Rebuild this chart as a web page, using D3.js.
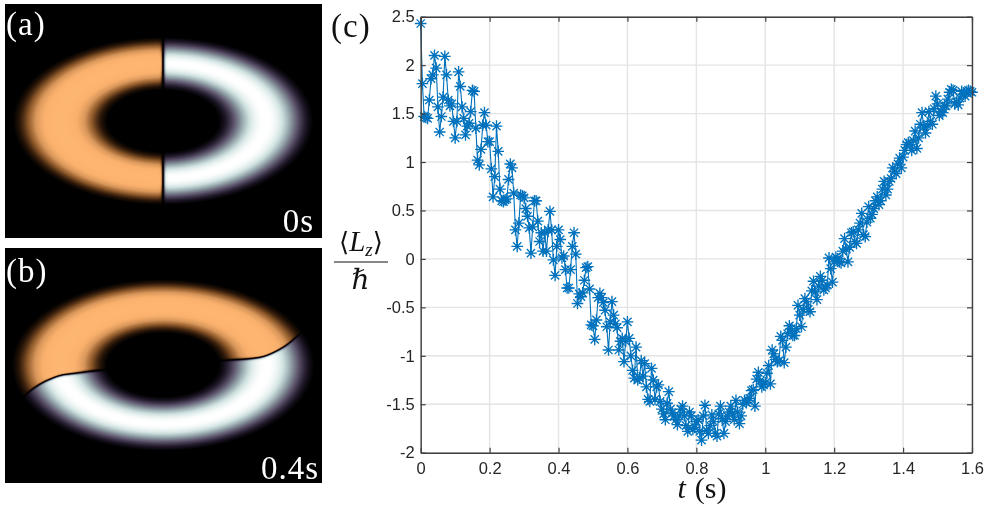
<!DOCTYPE html>
<html><head><meta charset="utf-8">
<script src="https://cdn.jsdelivr.net/npm/d3@7/dist/d3.min.js"></script>
<style>
html,body{margin:0;padding:0;background:#fff;width:988px;height:509px;overflow:hidden}
canvas,svg{position:absolute;left:0;top:0}
</style></head><body>
<script>
const dt = 0.005;
const Lz = [
2.43,1.81,1.47,1.46,1.45,1.64,1.86,1.90,2.10,1.97,1.57,1.31,1.47,1.67,2.09,1.90,1.64,1.58,1.60,1.42,
1.25,1.42,1.93,1.78,1.57,1.45,1.28,1.37,1.40,1.52,1.74,1.73,1.35,1.02,.97,1.13,1.38,1.51,1.38,1.21,
1.21,.93,.64,.85,1.37,1.11,.72,.60,.59,.61,.62,.82,.98,.94,.68,.30,.13,.37,.66,.65,
.63,.52,.44,.32,.06,.33,.60,.60,.39,.18,.27,.08,.27,.08,.30,.49,.30,-.01,-.17,.13,
.30,.20,.01,.03,-.11,-.30,-.30,-.11,.13,.27,.05,-.46,-.36,-.39,-.35,-.22,-.09,-.08,-.31,-.68,
-.69,-.83,-.63,-.40,-.355,-.40,-.45,-.53,-.70,-.94,-.65,-.44,-.58,-.67,-.71,-.94,-.85,-.82,-1.06,-.85,
-.65,-.82,-1.0,-1.15,-1.23,-.91,-1.25,-1.23,-1.05,-1.21,-1.08,-1.32,-1.45,-1.47,-1.13,-1.25,-1.45,-1.32,-1.30,-1.47,
-1.55,-1.60,-1.66,-1.49,-1.37,-1.55,-1.59,-1.62,-1.66,-1.71,-1.62,-1.55,-1.52,-1.62,-1.72,-1.78,-1.58,-1.62,-1.76,-1.74,
-1.68,-1.66,-1.78,-1.87,-1.62,-1.51,-1.77,-1.80,-1.72,-1.61,-1.68,-1.80,-1.83,-1.60,-1.52,-1.65,-1.80,-1.68,-1.62,-1.58,
-1.52,-1.60,-1.66,-1.46,-1.58,-1.70,-1.62,-1.50,-1.46,-1.48,-1.46,-1.44,-1.36,-1.35,-1.52,-1.24,-1.17,-1.26,-1.32,-1.30,
-1.28,-1.18,-1.10,-1.29,-.94,-.98,-1.04,-1.06,-1.05,-.80,-.84,-1.07,-.91,-.77,-.69,-.72,-.79,-.79,-.72,-.48,
-.58,-.70,-.52,-.41,-.44,-.52,-.545,-.33,-.23,-.34,-.42,-.28,-.18,-.22,-.32,-.30,-.27,.01,-.10,-.24,
-.03,.02,.0,-.03,-.04,.08,.21,.10,-.03,.12,.27,.28,.18,.16,.30,.37,.47,.25,.23,.38,
.54,.42,.46,.52,.60,.64,.56,.60,.72,.80,.66,.72,.80,.83,.94,.90,.88,.98,1.04,.94,
1.05,1.12,1.18,1.20,1.18,1.12,1.22,1.32,1.14,1.25,1.39,1.51,1.36,1.30,1.38,1.52,1.42,1.39,1.55,1.68,
1.60,1.48,1.52,1.51,1.58,1.58,1.65,1.72,1.75,1.74,1.60,1.62,1.59,1.66,1.73,1.70,1.68,1.73,1.74,1.73,1.72
];
const xTicks = [0,0.2,0.4,0.6,0.8,1,1.2,1.4,1.6];
const yTicks = [-2,-1.5,-1,-0.5,0,0.5,1,1.5,2,2.5];
const densityStops = [0,0.1,0.3,0.55,0.8,1];
const orangeStops = ["#000000","#2a1608","#8a5628","#d8965a","#f9b06c","#fdb672"];
const whiteStops  = ["#000000","#1d1626","#5a5169","#8f9ea5","#cfe2e0","#ffffff"];
const frontX = [0,28,43,60,77,92,230,247,263,277,290,298,330];
const frontY = [424,392,382,375,373,371,360,359,357,351,343,335,312];

const W = 988, H = 509;
const orange = d3.scaleLinear().domain(densityStops).range(orangeStops).clamp(true);
const white  = d3.scaleLinear().domain(densityStops).range(whiteStops).clamp(true);
const rawFront = d3.scaleLinear().domain(frontX).range(frontY);
const front = xx => d3.mean(d3.range(-6,7), k => rawFront(xx+k));

const canvas = d3.select("body").append("canvas").attr("width",W).attr("height",H);
const ctx = canvas.node().getContext("2d");
const img = ctx.createImageData(W,H);
for(let i=3;i<img.data.length;i+=4){img.data[i]=255;img.data[i-1]=img.data[i-2]=img.data[i-3]=255;}

function paint(x0,x1,y0,y1,cx,cy,rx,ry,signed,w){
  for(let y=y0;y<y1;y++)for(let x=x0;x<x1;x++){
    const r=Math.hypot((x+.5-cx)/rx,(y+.5-cy)/ry);
    const s=signed(x+.5,y+.5);
    let d=Math.exp(-Math.pow(Math.abs(r-0.70)/0.215,2.4));
    d=Math.max(0,(d-0.07)/0.93);
    const t=Math.tanh(Math.abs(s)/w);
    d*=t*t;
    const c=d3.rgb((s<0?orange:white)(d));
    const k=(y*W+x)*4;
    img.data[k]=c.r;img.data[k+1]=c.g;img.data[k+2]=c.b;
  }
}
paint(5,322,4,238,163,121,147,82,(x)=>x-163,1.7);
paint(5,322,248,483,163,365,148,84,(x,y)=>y-front(x),1.3);
ctx.putImageData(img,0,0);

const svg = d3.select("body").append("svg").attr("width",W).attr("height",H);
const x = d3.scaleLinear().domain([0,1.6]).range([420.7,972]);
const y = d3.scaleLinear().domain([-2,2.5]).range([452.7,16.7]);

const serif = "'Liberation Serif','DejaVu Serif',serif";
const sans = "'Liberation Sans',Arial,sans-serif";

// grid
const grid = svg.append("g").attr("stroke","#e4e4e4").attr("stroke-width",1.4);
grid.selectAll(".gx").data(xTicks).join("line")
  .attr("x1",d=>x(d)).attr("x2",d=>x(d)).attr("y1",y(-2)).attr("y2",y(2.5));
grid.selectAll(".gy").data(yTicks).join("line")
  .attr("x1",x(0)).attr("x2",x(1.6)).attr("y1",d=>y(d)).attr("y2",d=>y(d));

// data
const pts = Lz.map((v,i)=>[i*dt,v]);
svg.append("path").datum(pts)
  .attr("fill","none").attr("stroke","#0072BD").attr("stroke-width",1.1)
  .attr("d",d3.line().x(d=>x(d[0])).y(d=>y(d[1])));
const asterisk8 = {draw(c,size){
  const r=Math.sqrt(size), u=r*Math.SQRT1_2;
  c.moveTo(0,-r);c.lineTo(0,r);
  c.moveTo(-r,0);c.lineTo(r,0);
  c.moveTo(-u,-u);c.lineTo(u,u);
  c.moveTo(-u,u);c.lineTo(u,-u);
}};
const star = d3.symbol().type(asterisk8).size(34);
svg.append("g").selectAll("path").data(pts).join("path")
  .attr("d",star).attr("fill","none").attr("stroke","#0072BD").attr("stroke-width",1.35)
  .attr("transform",d=>`translate(${x(d[0])},${y(d[1])})`);

// axes
function style(g){
  g.selectAll(".domain").attr("stroke","#404040").attr("stroke-width",1.4);
  g.selectAll(".tick line").attr("stroke","#404040").attr("stroke-width",1.2);
  g.selectAll("text").attr("fill","#262626").style("font-family",sans).style("font-size","16.5px");
}
const fmt = d=>String(d);
svg.append("g").attr("transform",`translate(0,${y(-2)})`)
  .call(d3.axisBottom(x).tickValues(xTicks).tickFormat(fmt).tickSize(-5).tickSizeOuter(0).tickPadding(10)).call(style);
svg.append("g").attr("transform",`translate(${x(0)},0)`)
  .call(d3.axisLeft(y).tickValues(yTicks).tickFormat(fmt).tickSize(-5).tickSizeOuter(0).tickPadding(6)).call(style);
svg.append("g").attr("transform",`translate(0,${y(2.5)})`)
  .call(d3.axisTop(x).tickValues(xTicks).tickFormat("").tickSize(-5).tickSizeOuter(0)).call(style);
svg.append("g").attr("transform",`translate(${x(1.6)},0)`)
  .call(d3.axisRight(y).tickValues(yTicks).tickFormat("").tickSize(-5).tickSizeOuter(0)).call(style);

// labels
function label(t,px,py,size,fill,anchor,italic){
  return svg.append("text").attr("x",px).attr("y",py).attr("fill",fill)
    .attr("text-anchor",anchor||"start").attr("font-family",serif).attr("font-size",size)
    .attr("letter-spacing",1).attr("font-style",italic?"italic":"normal").text(t);
}
label("(a)",6,35,33,"#fff");
label("(b)",6,282,33,"#fff");
label("(c)",331,37,33,"#111");
label("0s",314,232,33,"#fff","end");
label("0.4s",319,479,33,"#fff","end");

const tl = svg.append("text").attr("x",702).attr("y",498).attr("text-anchor","middle")
  .attr("font-family",serif).attr("font-size",30).attr("fill","#111");
tl.append("tspan").attr("font-style","italic").text("t");
tl.append("tspan").attr("dx",9).text("(s)");

const num = svg.append("text").attr("x",361).attr("y",251).attr("text-anchor","middle")
  .attr("font-family",serif).attr("font-size",29).attr("fill","#111");
num.append("tspan").attr("font-family","'DejaVu Serif',serif").attr("font-size",26).text("\u27E8");
num.append("tspan").attr("font-style","italic").text("L");
num.append("tspan").attr("font-style","italic").attr("font-size",19).attr("dy",5).text("z");
num.append("tspan").attr("font-family","'DejaVu Serif',serif").attr("font-size",26).attr("dy",-5).text("\u27E9");
svg.append("line").attr("x1",334).attr("x2",388).attr("y1",262).attr("y2",262).attr("stroke","#111").attr("stroke-width",1);
label("\u210F",361,289,28,"#111","middle",true);
</script>
</body></html>
